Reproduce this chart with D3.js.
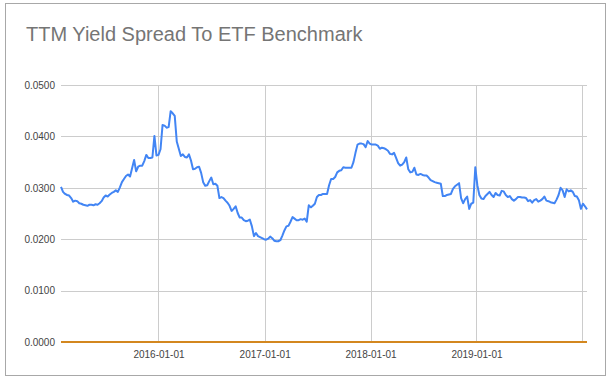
<!DOCTYPE html>
<html>
<head>
<meta charset="utf-8">
<script src="https://cdn.jsdelivr.net/npm/d3@7"></script>
<style>
  html, body { margin: 0; padding: 0; background: #fff; }
  svg { display: block; }
  text { font-family: Arial, "Liberation Sans", sans-serif; }
</style>
</head>
<body>
<svg id="chart" width="609" height="381"></svg>
<script>
// ---- Data ----
const chartTitle = "TTM Yield Spread To ETF Benchmark";
const startDate = "2015-01-30";   // first weekly observation
const stepDays = 7;                // weekly observations
// TTM yield spread (x 0.001)
const spreadValues = [
  30.2,29.2,28.8,28.6,28.5,28.0,27.3,27.5,27.4,27.0,
  26.9,26.7,26.6,26.5,26.7,26.7,26.6,26.8,26.7,27.0,
  27.4,28.1,28.5,28.3,28.7,29.0,29.2,29.5,29.2,30.1,
  31.1,31.7,32.3,32.6,32.2,33.8,35.4,33.2,34.1,34.3,
  34.3,35.2,36.4,35.8,35.8,35.9,40.1,36.3,36.4,37.5,
  42.2,42.1,41.7,41.8,44.9,44.5,44.0,39.0,37.6,36.2,
  36.5,36.0,35.9,36.5,35.3,33.6,33.7,34.0,34.1,32.9,
  31.1,30.4,30.5,31.3,32.0,30.7,30.8,30.4,28.0,28.2,
  28.0,27.5,27.1,26.5,25.5,25.9,26.4,25.1,24.2,24.2,
  23.7,23.5,23.6,23.8,22.5,20.6,21.2,20.6,20.4,20.2,
  20.0,19.9,20.1,20.5,20.2,19.7,19.6,19.6,19.8,20.7,
  21.7,22.5,22.6,23.4,24.3,24.0,23.7,23.7,23.9,23.8,
  24.0,23.4,26.6,26.2,26.5,26.9,28.2,28.6,28.6,28.8,
  28.8,28.8,30.5,31.7,31.7,32.1,33.0,33.3,33.4,34.0,
  33.9,33.9,33.9,33.9,35.0,36.8,38.4,38.6,38.6,38.5,
  37.9,39.1,38.6,38.4,38.4,38.4,38.2,37.6,37.8,37.7,
  37.5,37.2,36.6,36.5,36.8,35.8,34.8,34.3,34.5,35.0,
  35.9,33.6,33.0,33.1,33.9,32.6,32.5,32.7,32.5,32.4,
  32.4,32.0,31.5,31.3,31.1,31.0,30.9,30.8,28.4,28.4,
  28.6,28.7,28.8,29.8,30.3,30.6,30.9,28.0,27.0,27.8,
  28.3,25.9,26.9,27.1,34.0,30.5,28.6,27.9,27.8,28.4,
  28.8,29.2,28.6,28.2,29.0,28.6,28.5,29.4,29.3,28.6,
  28.2,28.4,27.8,27.5,27.8,28.2,28.2,28.1,28.1,28.0,
  27.4,27.6,27.1,27.6,27.8,27.3,27.5,27.8,28.3,27.5,
  27.4,27.2,27.1,27.0,27.7,28.6,30.0,29.5,28.2,29.7,
  29.3,29.5,29.2,28.4,28.3,27.6,25.9,26.9,26.4,25.8
];
const valueUnit = 0.001;
const benchmarkValues = [0, 0];    // benchmark line (first and last date)
const yTicks = [0, 0.01, 0.02, 0.03, 0.04, 0.05];
const xGridDates = ["2016-01-01", "2017-01-01", "2018-01-01", "2019-01-01", "2020-01-01"];
const xLabelDates = ["2016-01-01", "2017-01-01", "2018-01-01", "2019-01-01"];

// ---- Build ----
const parse = d3.timeParse("%Y-%m-%d");
const fmt = d3.timeFormat("%Y-%m-%d");
const d0 = parse(startDate);
const series = spreadValues.map((v, i) => ({ date: d3.timeDay.offset(d0, i * stepDays), value: v * valueUnit }));
const lastDate = series[series.length - 1].date;
const bench = [{ date: d0, value: benchmarkValues[0] }, { date: lastDate, value: benchmarkValues[1] }];

const svg = d3.select("#chart");
const W = 609, H = 381;
const plot = { left: 61, right: 587, top: 85, bottom: 342 };

// outer frame
svg.append("rect").attr("x", 5.5).attr("y", 3.5).attr("width", 600).attr("height", 372)
  .attr("fill", "#fff").attr("stroke", "#a8a8a8").attr("stroke-width", 1);

const x = d3.scaleTime().domain([d0, lastDate]).range([plot.left, plot.right]);
const y = d3.scaleLinear().domain([0, 0.05]).range([plot.bottom, plot.top]);

// title
svg.append("text").attr("x", 26).attr("y", 41).attr("font-size", 20).attr("fill", "#757575")
  .text(chartTitle);

// horizontal grid
const yAxis = d3.axisLeft(y).tickValues(yTicks).tickFormat(d3.format(".4f"))
  .tickSize(-(plot.right - plot.left)).tickPadding(6);
const gy = svg.append("g").attr("transform", `translate(${plot.left},0)`).call(yAxis);
gy.select(".domain").remove();
gy.selectAll(".tick line").attr("stroke", "#cccccc").attr("shape-rendering", "crispEdges");
gy.selectAll(".tick text").attr("font-size", 10).attr("fill", "#444").attr("font-family", "Arial, 'Liberation Sans', sans-serif");

// vertical grid
const gridDates = xGridDates.map(parse);
const gxGrid = svg.append("g").attr("transform", `translate(0,${plot.bottom})`)
  .call(d3.axisBottom(x).tickValues(gridDates).tickSize(-(plot.bottom - plot.top)).tickFormat(""));
gxGrid.select(".domain").remove();
gxGrid.selectAll(".tick line").attr("stroke", "#cccccc").attr("shape-rendering", "crispEdges");

// x labels
const gx = svg.append("g").attr("transform", `translate(0,${plot.bottom})`)
  .call(d3.axisBottom(x).tickValues(xLabelDates.map(parse)).tickFormat(fmt).tickSize(0).tickPadding(9));
gx.select(".domain").remove();
gx.selectAll(".tick text").attr("font-size", 10).attr("fill", "#444").attr("font-family", "Arial, 'Liberation Sans', sans-serif");

// lines
const line = d3.line().x(d => x(d.date)).y(d => y(d.value));
svg.append("path").datum(series).attr("d", line).attr("fill", "none")
  .attr("stroke", "#4285f4").attr("stroke-width", 2).attr("stroke-linejoin", "round");
svg.append("path").datum(bench).attr("d", line).attr("fill", "none")
  .attr("stroke", "#d3871f").attr("stroke-width", 2);
</script>
</body>
</html>
